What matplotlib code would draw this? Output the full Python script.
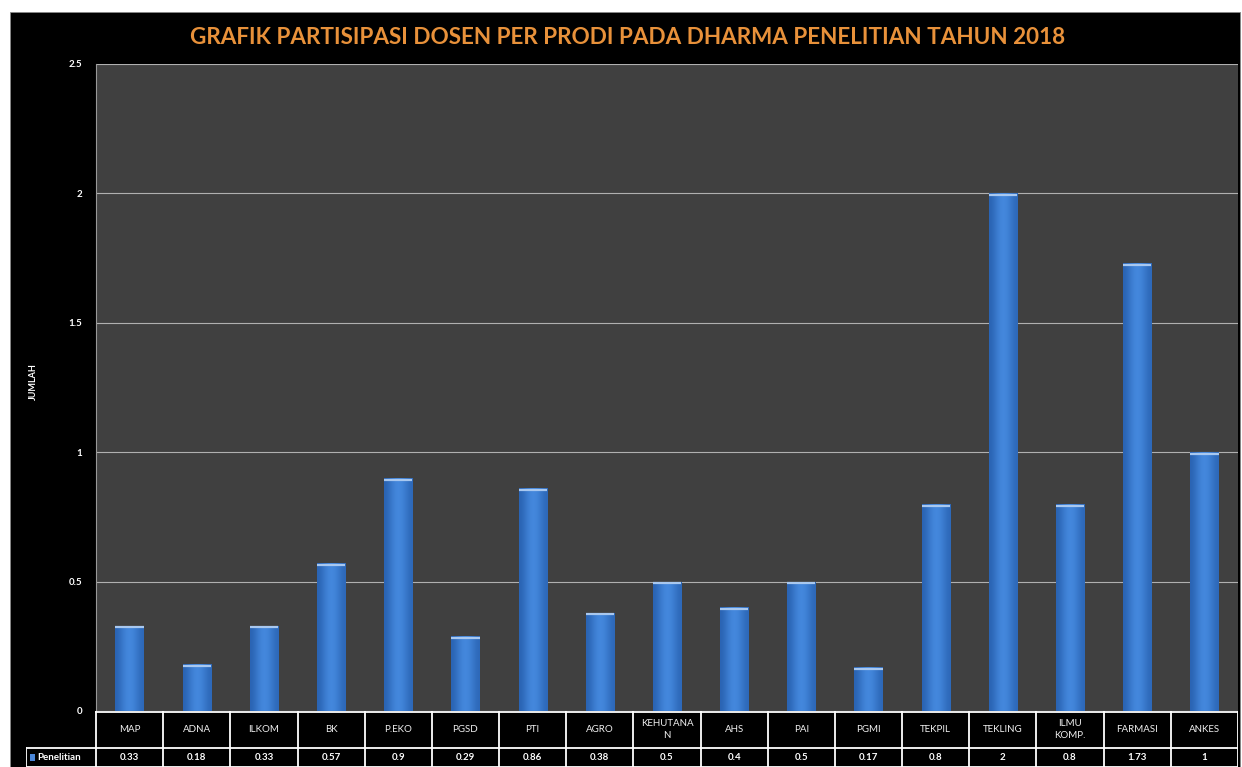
import matplotlib
matplotlib.use("Agg")
import matplotlib.pyplot as plt
import numpy as np
from matplotlib.patches import Rectangle

plt.rcParams['font.family'] = ['Lato', 'DejaVu Sans']

prodi = ["MAP", "ADNA", "ILKOM", "BK", "P.EKO", "PGSD", "PTI", "AGRO",
         "KEHUTANA\nN", "AHS", "PAI", "PGMI", "TEKPIL", "TEKLING",
         "ILMU\nKOMP.", "FARMASI", "ANKES"]
penelitian = [0.33, 0.18, 0.33, 0.57, 0.9, 0.29, 0.86, 0.38, 0.5, 0.4,
              0.5, 0.17, 0.8, 2, 0.8, 1.73, 1]
nilai_label = ["0.33", "0.18", "0.33", "0.57", "0.9", "0.29", "0.86", "0.38",
               "0.5", "0.4", "0.5", "0.17", "0.8", "2", "0.8", "1.73", "1"]
series_name = "Penelitian"
judul = "GRAFIK PARTISIPASI DOSEN PER PRODI PADA DHARMA PENELITIAN TAHUN 2018"

W, H = 1242, 767
fig = plt.figure(figsize=(W / 100, H / 100), dpi=100, facecolor="white")

# black chart background
fig.add_artist(Rectangle((10 / W, 0), 1230 / W, (H - 12) / H,
                         transform=fig.transFigure, facecolor="black",
                         edgecolor="#888888", lw=0.6, zorder=0))

px_l, px_r, px_t, px_b = 96, 1238, 64, 711
ax = fig.add_axes([px_l / W, (H - px_b) / H, (px_r - px_l) / W, (px_b - px_t) / H])
ax.set_facecolor("#404040")
n = len(prodi)
x = np.arange(n)

bars = ax.bar(x, penelitian, width=0.42, color="#3b7fd6", zorder=2)
grad = np.array([[0.0, 0.35, 0.7, 0.85, 0.7, 0.4, 0.1]])
cmap = matplotlib.colors.LinearSegmentedColormap.from_list(
    "b", ["#2a64b4", "#4a90e6"])
for b in bars:
    bx, bw, bh = b.get_x(), b.get_width(), b.get_height()
    im = ax.imshow(grad, extent=(bx, bx + bw, 0, bh), aspect="auto",
                   cmap=cmap, vmin=0, vmax=1, zorder=3, interpolation="bicubic")
    im.set_clip_path(b)
    ax.plot([bx, bx + bw], [bh - 0.006, bh - 0.006], color="#a8c8f0",
            lw=1.6, zorder=4, solid_capstyle="butt")
ax.set_xlim(-0.5, n - 0.5)
ax.set_ylim(0, 2.5)

ax.set_yticks([0, 0.5, 1, 1.5, 2, 2.5])
ax.set_yticklabels(["0", "0.5", "1", "1.5", "2", "2.5"])
ax.yaxis.grid(True, color="#b0b0b0", lw=0.8, zorder=1)
ax.set_axisbelow(True)
ax.tick_params(axis="y", colors="white", labelsize=7, length=0, pad=10)
for t in ax.get_yticklabels():
    t.set_fontweight("bold")
ax.set_xticks([])
for s in ["top", "right", "bottom"]:
    ax.spines[s].set_visible(False)
ax.spines["left"].set_color("#999999")
ax.spines["left"].set_linewidth(0.8)
fig.text(33 / W, 1 - 382 / H, "JUMLAH", color="white", fontsize=6.5,
         fontweight="bold", rotation=90, ha="center", va="center")

# data table below the plot
tab_l = 26
leg_w = (px_l - tab_l) / ((px_r - px_l) / n)
tax = fig.add_axes([tab_l / W, 0, (px_r - tab_l) / W, (H - px_b) / H])
tax.set_xlim(-0.5 - leg_w, n - 0.5)
tax.set_ylim(0, H - px_b)
tax.axis("off")
row_v = 19
lc = "white"
lw = 1.3
tax.plot([-0.5 - leg_w, n - 0.5], [row_v, row_v], color=lc, lw=lw)
tax.plot([-0.5 - leg_w, n - 0.5], [0.5, 0.5], color=lc, lw=lw)
tax.plot([-0.5, n - 0.5], [H - px_b - 0.5, H - px_b - 0.5], color=lc, lw=lw)
tax.plot([-0.5 - leg_w, -0.5 - leg_w], [0, row_v], color=lc, lw=lw)
for i in range(n + 1):
    tax.plot([i - 0.5, i - 0.5], [0, H - px_b], color=lc, lw=lw)
for i in range(n):
    tax.text(x[i], (row_v + H - px_b) / 2, prodi[i], color="#f0f0f0",
             fontsize=7, ha="center", va="center", linespacing=1.4)
    tax.text(x[i], row_v / 2, nilai_label[i], color="white", fontsize=7,
             ha="center", va="center", fontweight="bold")
tax.add_patch(Rectangle((-0.5 - leg_w + 0.06, row_v / 2 - 3.5), 0.08, 7,
                        facecolor="#4a86d8", edgecolor="none"))
tax.text(-0.5 - leg_w + 0.17, row_v / 2, series_name, color="white",
         fontsize=7, ha="left", va="center", fontweight="bold")

fig.text(628 / W, 1 - 37 / H, judul, color="#e8913a", fontsize=16.2,
         fontweight="bold", ha="center", va="center")

fig.savefig("out.png", dpi=100, facecolor="white")
